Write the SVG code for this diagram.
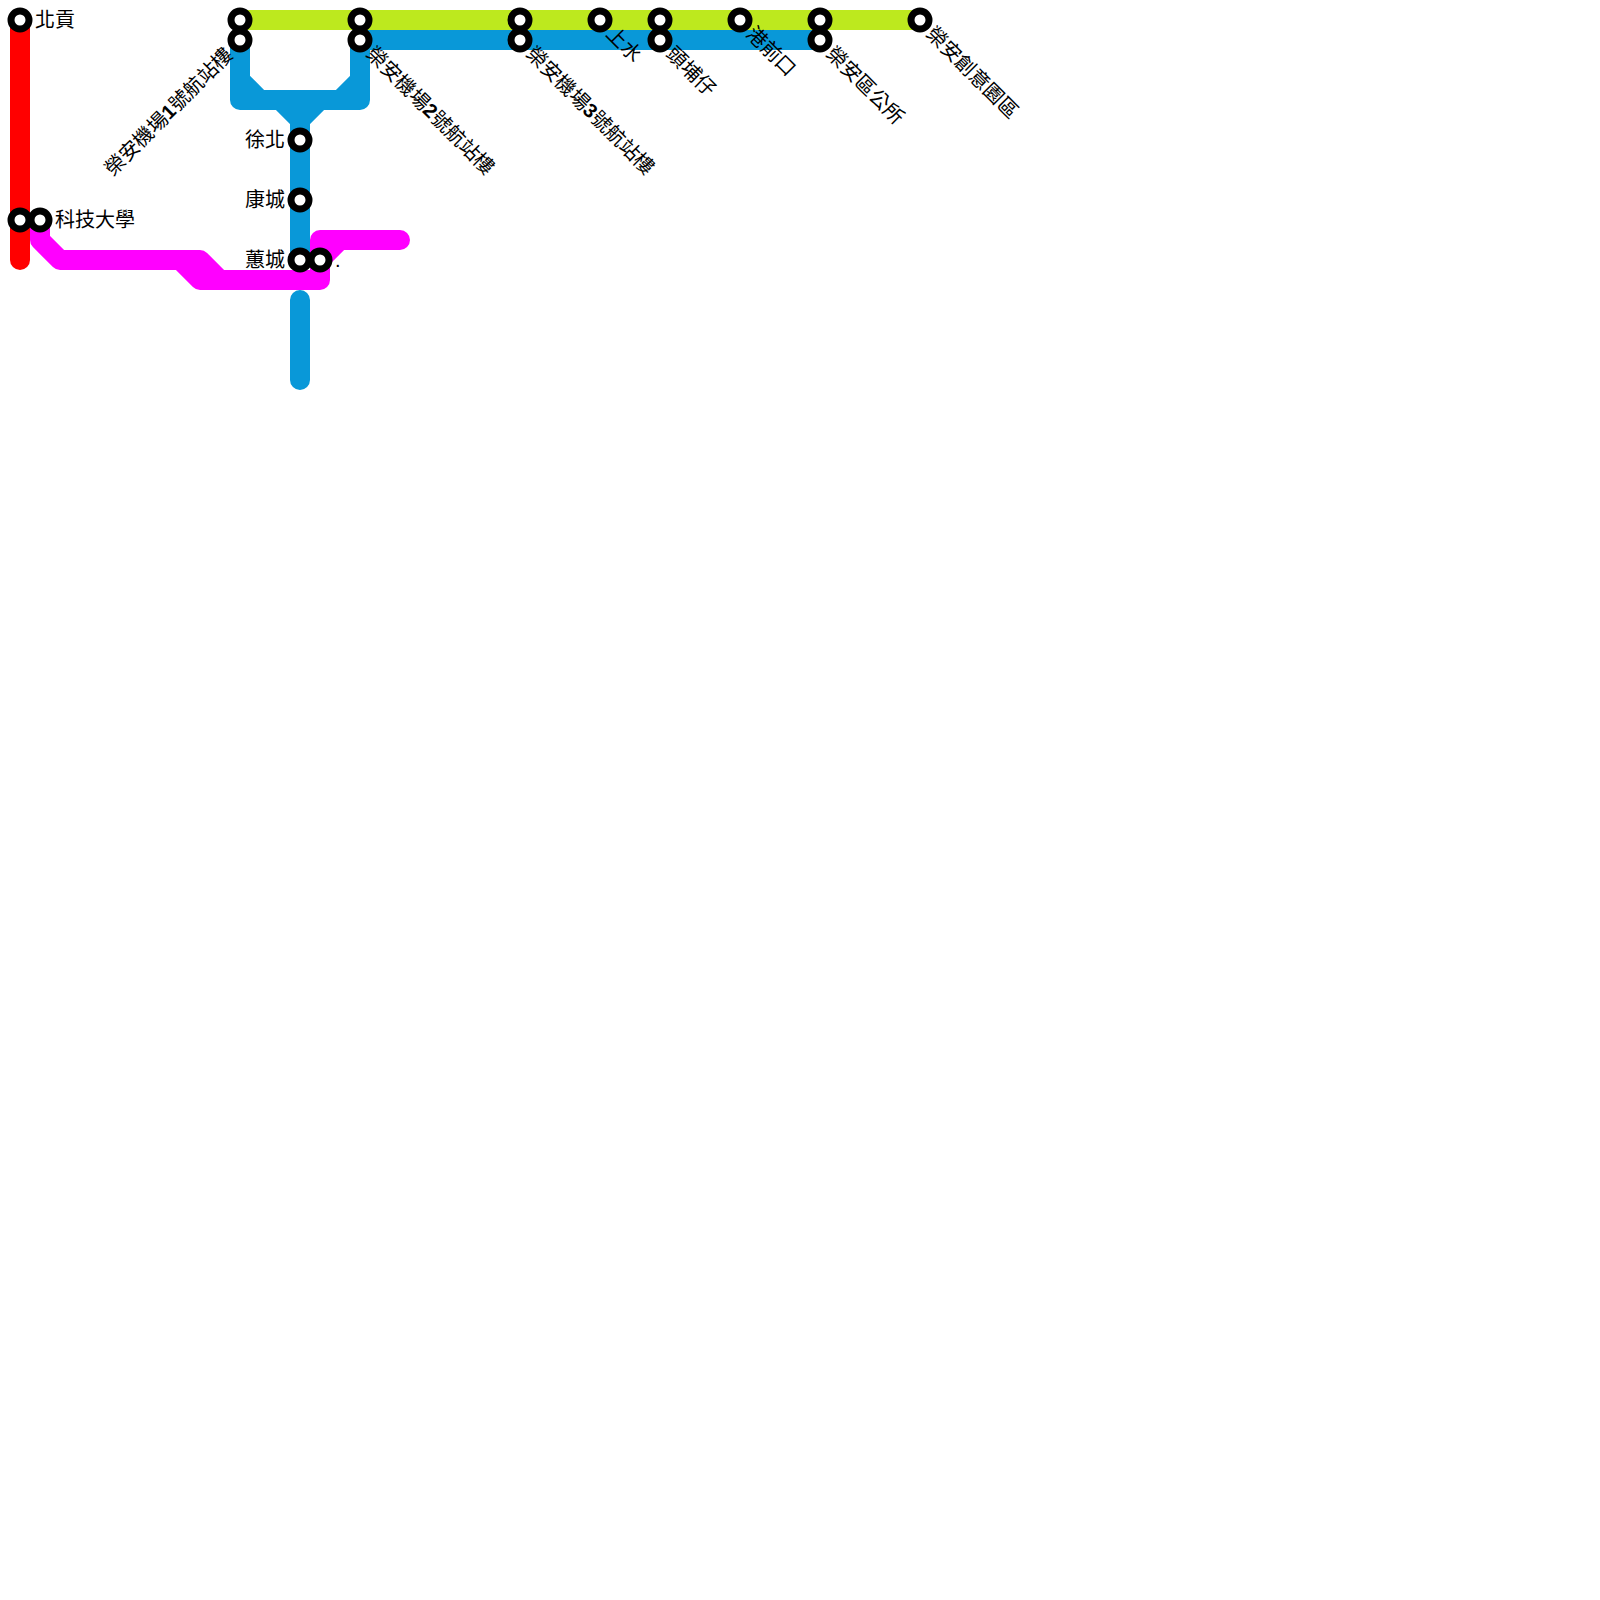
<svg xmlns="http://www.w3.org/2000/svg" width="1600" height="1600" viewBox="0 0 1600 1600">
<style>
.l{fill:none;stroke-width:20;stroke-linecap:round;stroke-linejoin:round}
.s{fill:#fff;stroke:#000;stroke-width:7}
text{font-family:"Liberation Sans","Noto Sans CJK TC",sans-serif;font-size:20px;fill:#000}
</style>
<rect width="1600" height="1600" fill="#fff"/>
<g id="connectors">
<path class="l" style="stroke:#bde91e;stroke-linecap:butt" d="M240 20H920"/>
<path class="l" style="stroke:#0998d8" d="M240 40V100H360V40M240 80L260 100M360 80L340 100M280 100L300 120L320 100M300 120V260M300 300V380"/>
<path class="l" style="stroke:#0998d8;stroke-linecap:butt" d="M360 40H820"/>
<path class="l" style="stroke:#f00" d="M20 20V260"/>
<path class="l" style="stroke:#f0f" d="M40 220V240L60 260H200L220 280H320V240H400M180 260L200 280H220M320 260L340 240"/>
</g>
<g id="n1"><circle class="s" cx="20" cy="20" r="9"/><text x="35" y="27">北貢</text></g>
<g id="n2"><circle class="s" cx="20" cy="220" r="9"/></g>
<g id="n3"><circle class="s" cx="40" cy="220" r="9"/><text x="55" y="227">科技大學</text></g>
<g id="n4"><circle class="s" cx="240" cy="20" r="9"/></g>
<g id="n5"><circle class="s" cx="240" cy="40" r="9"/><text transform="translate(234 56) rotate(-45)" text-anchor="end">榮安機場<tspan font-weight="bold">1</tspan>號航站樓</text></g>
<g id="n6"><circle class="s" cx="360" cy="20" r="9"/></g>
<g id="n7"><circle class="s" cx="360" cy="40" r="9"/><text transform="translate(365 55) rotate(45)">榮安機場<tspan font-weight="bold">2</tspan>號航站樓</text></g>
<g id="n8"><circle class="s" cx="520" cy="20" r="9"/></g>
<g id="n9"><circle class="s" cx="520" cy="40" r="9"/><text transform="translate(525 55) rotate(45)">榮安機場<tspan font-weight="bold">3</tspan>號航站樓</text></g>
<g id="n10"><circle class="s" cx="600" cy="20" r="9"/><text transform="translate(605 35) rotate(45)">上水</text></g>
<g id="n11"><circle class="s" cx="660" cy="20" r="9"/></g>
<g id="n12"><circle class="s" cx="660" cy="40" r="9"/><text transform="translate(665 55) rotate(45)">頭埔仔</text></g>
<g id="n13"><circle class="s" cx="740" cy="20" r="9"/><text transform="translate(745 35) rotate(45)">港前口</text></g>
<g id="n14"><circle class="s" cx="820" cy="20" r="9"/></g>
<g id="n15"><circle class="s" cx="820" cy="40" r="9"/><text transform="translate(825 55) rotate(45)">榮安區公所</text></g>
<g id="n16"><circle class="s" cx="920" cy="20" r="9"/><text transform="translate(925 35) rotate(45)">榮安創意園區</text></g>
<g id="n17"><circle class="s" cx="300" cy="140" r="9"/><text x="285" y="147" text-anchor="end">徐北</text></g>
<g id="n18"><circle class="s" cx="300" cy="200" r="9"/><text x="285" y="207" text-anchor="end">康城</text></g>
<g id="n19"><circle class="s" cx="300" cy="260" r="9"/><text x="285" y="267" text-anchor="end">蕙城</text></g>
<g id="n20"><circle class="s" cx="320" cy="260" r="9"/><text x="335" y="267">.</text></g>
</svg>
